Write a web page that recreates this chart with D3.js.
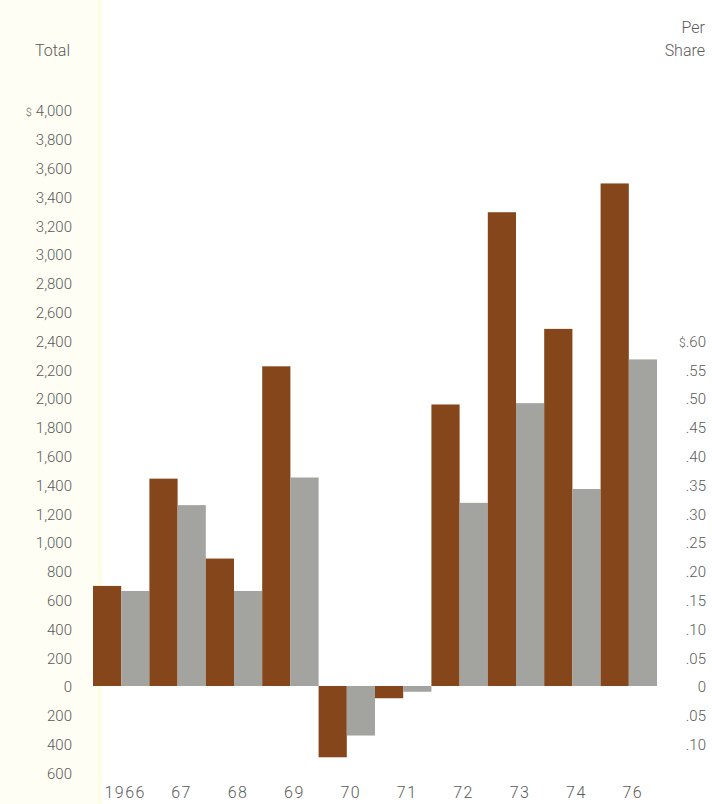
<!DOCTYPE html>
<html>
<head>
<meta charset="utf-8">
<script src="https://cdn.jsdelivr.net/npm/d3@7"></script>
<style>
  html, body { margin: 0; padding: 0; background: #ffffff; }
  svg { display: block; }
  text { font-family: Roboto, "Liberation Sans", sans-serif; font-weight: 300; fill: #5a5a58; }
</style>
</head>
<body>
<svg id="chart" width="712" height="804"></svg>
<script>
// Net income: total (millions) and per share, 1966–1976
const years = ["1966", "67", "68", "69", "70", "71", "72", "73", "74", "76"];
const totalIncome = [695, 1440, 885, 2220, -495, -85, 1955, 3290, 2480, 3490];
const perShare = [0.165, 0.314, 0.165, 0.362, -0.086, -0.010, 0.318, 0.491, 0.342, 0.567];

const totalTicks = d3.range(-600, 4001, 200);
const shareTicks = [-0.10, -0.05, 0, 0.05, 0.10, 0.15, 0.20, 0.25, 0.30, 0.35, 0.40, 0.45, 0.50, 0.55, 0.60];

const colors = { total: "#84461a", share: "#a3a3a0" };

const svg = d3.select("#chart");
const W = 712, H = 804;

// paper tint along the left margin
svg.append("rect").attr("x", 0).attr("y", 0).attr("width", 100).attr("height", H).attr("fill", "#fefef5");
svg.append("rect").attr("x", 98).attr("y", 0).attr("width", 4).attr("height", H).attr("fill", "#fdfde6");

// shared vertical scale: $1.00 per share spans the same height as $4,000 total
const yTotal = d3.scaleLinear().domain([-600, 4000]).range([772.4, 110]);
const yShare = d3.scaleLinear().domain([-0.15, 1.0]).range([yTotal(-600), yTotal(4000)]);

const x = d3.scaleBand().domain(years).range([93, 657]).padding(0);
const xSub = d3.scaleBand().domain(["total", "share"]).range([0, x.bandwidth()]).padding(0);

// bars
const groups = svg.append("g").selectAll("g")
  .data(years.map((yr, i) => ({ yr, total: totalIncome[i], share: perShare[i] })))
  .join("g")
  .attr("transform", d => `translate(${x(d.yr)},0)`);

groups.append("rect")
  .attr("x", xSub("total"))
  .attr("width", xSub.bandwidth())
  .attr("y", d => yTotal(Math.max(0, d.total)))
  .attr("height", d => Math.abs(yTotal(d.total) - yTotal(0)))
  .attr("fill", colors.total);

groups.append("rect")
  .attr("x", xSub("share"))
  .attr("width", xSub.bandwidth())
  .attr("y", d => yShare(Math.max(0, d.share)))
  .attr("height", d => Math.abs(yShare(d.share) - yShare(0)))
  .attr("fill", colors.share);

// left axis: totals
const fmtComma = d3.format(",");
const leftAxis = d3.axisLeft(yTotal).tickValues(totalTicks).tickSize(0).tickPadding(0)
  .tickFormat(d => fmtComma(Math.abs(d)));
const gl = svg.append("g").attr("transform", "translate(72,1)").call(leftAxis);
gl.select(".domain").remove();
gl.selectAll("text").attr("font-size", 15).style("font-family", null).attr("font-family", null).attr("fill", null);
gl.selectAll(".tick").filter(d => d === 4000).select("text")
  .text(null)
  .call(t => {
    t.append("tspan").attr("font-size", 11).text("$");
    t.append("tspan").attr("dx", 4).text("4,000");
  });

// right axis: per share
const fmtShare = d => {
  if (d === 0) return "0";
  return d3.format(".2f")(Math.abs(d)).replace(/^0/, "");
};
const rightAxis = d3.axisLeft(yShare).tickValues(shareTicks).tickSize(0).tickPadding(0)
  .tickFormat(fmtShare);
const gr = svg.append("g").attr("transform", "translate(706,1)").call(rightAxis);
gr.select(".domain").remove();
gr.selectAll("text").attr("font-size", 15).style("font-family", null).attr("font-family", null).attr("fill", null);
gr.selectAll(".tick").filter(d => Math.abs(d - 0.60) < 1e-9).select("text")
  .text(null)
  .call(t => {
    t.append("tspan").attr("font-size", 12).text("$");
    t.append("tspan").text(".60");
  });

// year labels
const xAxis = d3.axisBottom(x).tickSize(0).tickPadding(0);
const gx = svg.append("g").attr("transform", "translate(4,787)").call(xAxis);
gx.select(".domain").remove();
gx.selectAll("text").attr("font-size", 16).attr("letter-spacing", 1.5)
  .style("font-family", null).attr("font-family", null).attr("fill", null);

// axis titles
svg.append("text").attr("x", 70).attr("y", 56).attr("text-anchor", "end").attr("font-size", 16).text("Total");
svg.append("text").attr("x", 705).attr("y", 33).attr("text-anchor", "end").attr("font-size", 16).text("Per");
svg.append("text").attr("x", 705).attr("y", 56).attr("text-anchor", "end").attr("font-size", 16).text("Share");
</script>
</body>
</html>
